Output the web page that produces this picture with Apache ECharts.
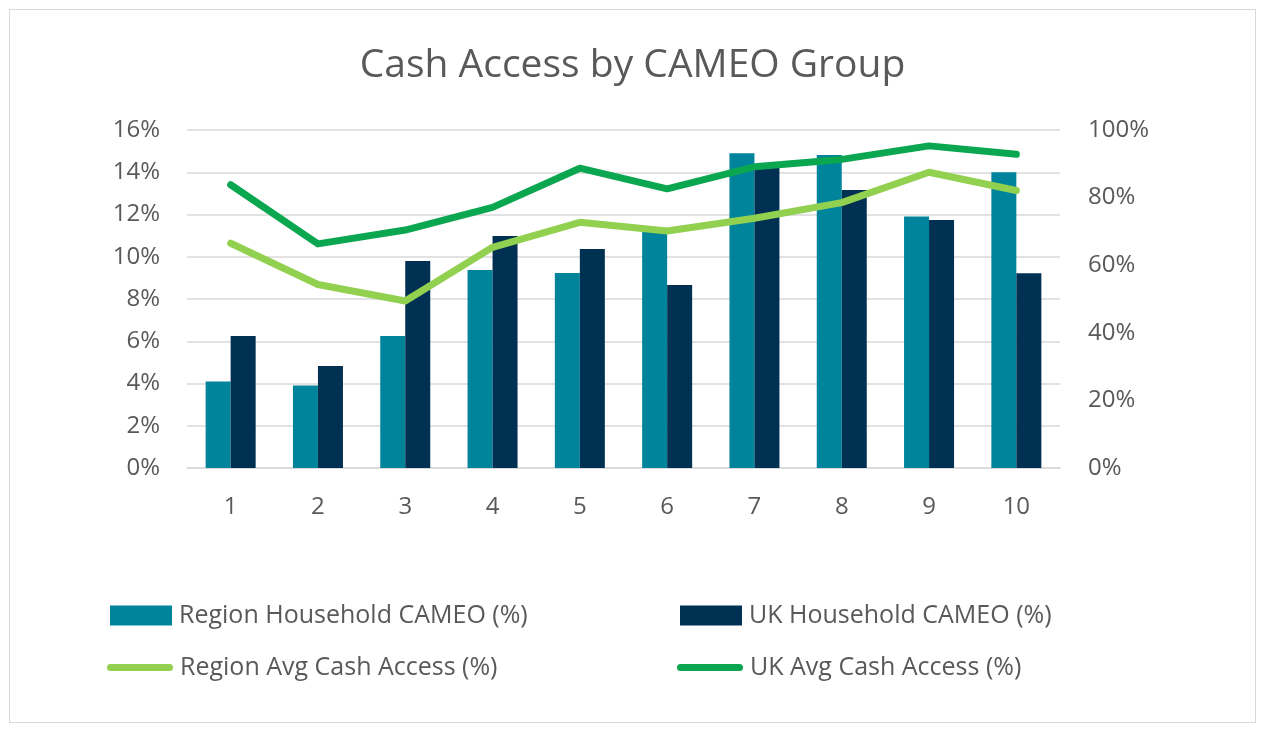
<!DOCTYPE html>
<html><head><meta charset="utf-8">
<script src="https://cdn.jsdelivr.net/npm/echarts@6/dist/echarts.min.js"></script>
<style>
html,body{margin:0;padding:0;background:#fff;}
#frame{position:absolute;left:9px;top:9px;width:1245px;height:712px;border:1px solid #d9d9d9;}
#chart{position:absolute;left:0;top:0;width:1265px;height:732px;}
</style></head>
<body>
<div id="frame"></div>
<div id="chart"></div>
<script>
const categories = ['1','2','3','4','5','6','7','8','9','10'];
const regionHousehold = [4.1, 3.9, 6.25, 9.37, 9.23, 11.3, 14.9, 14.82, 11.9, 14.0];
const ukHousehold = [6.25, 4.83, 9.8, 10.98, 10.37, 8.66, 14.3, 13.16, 11.74, 9.22];
const regionCash = [66.5, 54.3, 49.4, 65.3, 72.7, 70.1, 73.9, 78.5, 87.5, 82.1];
const ukCash = [83.8, 66.3, 70.4, 77.1, 88.7, 82.6, 89.1, 91.3, 95.3, 92.8];
const leftTicks = [0, 2, 4, 6, 8, 10, 12, 14, 16];
const rightTicks = [0, 20, 40, 60, 80, 100];

const FONT = 'Open Sans';
const TXT = '#595959';
const lineIcon = 'path://M3.5,0 L62.5,0 A3.5,3.5 0 0 1 62.5,7 L3.5,7 A3.5,3.5 0 0 1 3.5,0 Z';
const chart = echarts.init(document.getElementById('chart'), null, {renderer: 'canvas'});
const legendText = {color: TXT, fontSize: 25, fontFamily: FONT, padding: [0, 0, 0, 2]};
chart.setOption({
  animation: false,
  title: {
    text: 'Cash Access by CAMEO Group', left: 'center', top: 41,
    textStyle: {color: TXT, fontSize: 39, fontWeight: 'normal', fontFamily: FONT}
  },
  legend: [
    {data: ['Region Household CAMEO (%)'], left: 110, top: 603, padding: 0, itemWidth: 62, itemHeight: 20, itemGap: 0, textStyle: legendText, icon: 'rect'},
    {data: ['UK Household CAMEO (%)'], left: 680, top: 603, padding: 0, itemWidth: 62, itemHeight: 20, itemGap: 0, textStyle: legendText, icon: 'rect'},
    {data: ['Region Avg Cash Access (%)'], left: 107, top: 655, padding: 0, itemWidth: 66, itemHeight: 7, itemGap: 0, textStyle: legendText, icon: lineIcon},
    {data: ['UK Avg Cash Access (%)'], left: 677, top: 655, padding: 0, itemWidth: 66, itemHeight: 7, itemGap: 0, textStyle: legendText, icon: lineIcon}
  ],
  grid: {left: 187, right: 205, top: 130, bottom: 264, containLabel: false},
  xAxis: {
    type: 'category', data: categories,
    axisLine: {lineStyle: {color: '#d9d9d9', width: 1.5}},
    axisTick: {show: false},
    axisLabel: {color: TXT, fontSize: 24, fontFamily: FONT, margin: 27}
  },
  yAxis: [
    {type: 'value', min: leftTicks[0], max: leftTicks[leftTicks.length-1], interval: 2,
     axisLine: {show: false}, axisTick: {show: false},
     splitLine: {lineStyle: {color: '#d9d9d9', width: 1.5}},
     axisLabel: {color: TXT, fontSize: 24, fontFamily: FONT, margin: 27, formatter: v => v + '%'}},
    {type: 'value', min: rightTicks[0], max: rightTicks[rightTicks.length-1], interval: 20,
     axisLine: {show: false}, axisTick: {show: false}, splitLine: {show: false},
     axisLabel: {color: TXT, fontSize: 24, fontFamily: FONT, margin: 28, formatter: v => v + '%'}}
  ],
  series: [
    {name: 'Region Household CAMEO (%)', type: 'bar', data: regionHousehold, yAxisIndex: 0,
     barWidth: 25, barGap: '0%', itemStyle: {color: '#00849C'}},
    {name: 'UK Household CAMEO (%)', type: 'bar', data: ukHousehold, yAxisIndex: 0,
     barWidth: 25, barGap: '0%', itemStyle: {color: '#003152'}},
    {name: 'Region Avg Cash Access (%)', type: 'line', data: regionCash, yAxisIndex: 1,
     symbol: 'none', lineStyle: {color: '#92D050', width: 7, cap: 'round', join: 'round'}, itemStyle: {color: '#92D050'}, z: 3},
    {name: 'UK Avg Cash Access (%)', type: 'line', data: ukCash, yAxisIndex: 1,
     symbol: 'none', lineStyle: {color: '#0AA650', width: 7, cap: 'round', join: 'round'}, itemStyle: {color: '#0AA650'}, z: 3}
  ]
});
</script>
</body></html>
